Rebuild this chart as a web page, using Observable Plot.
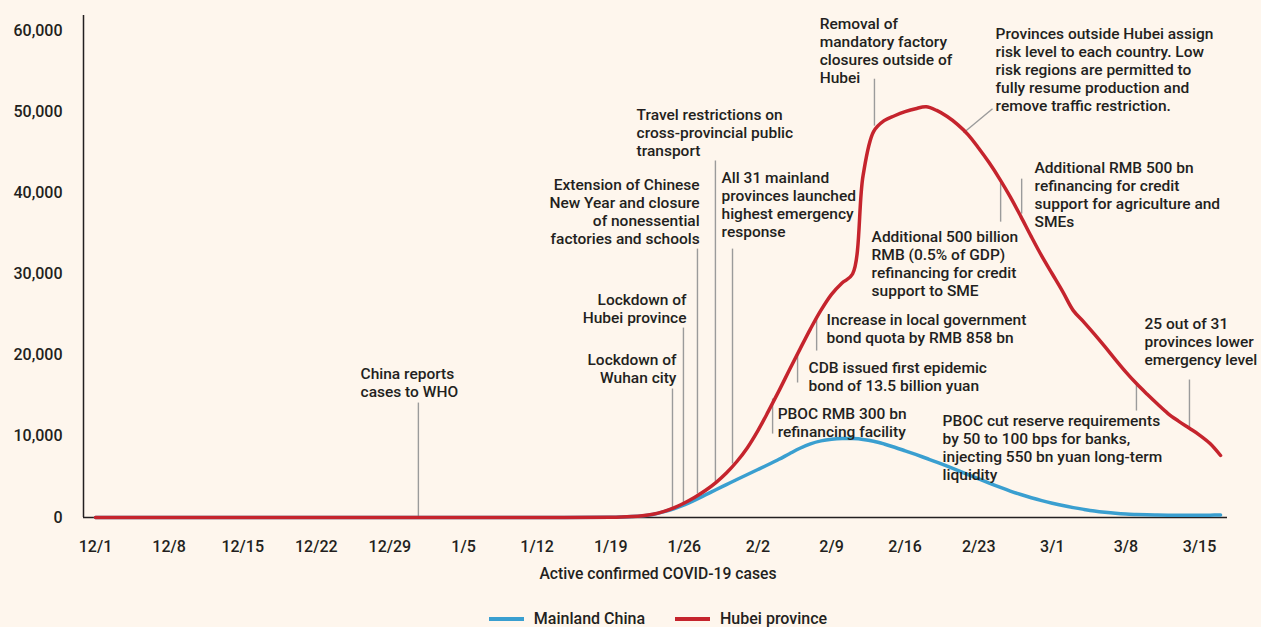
<!DOCTYPE html>
<html>
<head>
<meta charset="utf-8">
<script src="https://cdn.jsdelivr.net/npm/d3@7"></script>
<script src="https://cdn.jsdelivr.net/npm/@observablehq/plot@0.6"></script>
<style>
  html, body { margin: 0; padding: 0; background: #fef6ed; }
  body { width: 1261px; height: 627px; overflow: hidden; font-family: Roboto, sans-serif; color: #231f20; font-weight: 500; }
  #chart svg { display: block; }
  .caption { width: 1261px; box-sizing: border-box; padding-left: 55px; text-align: center; font-size: 15.7px; line-height: 20px; margin-top: 4px; }
  .legend { width: 1261px; box-sizing: border-box; padding-left: 55px; display: flex; justify-content: center; align-items: center; font-size: 16px; line-height: 20px; margin-top: 25px; }
  .legend .item { display: flex; align-items: center; margin: 0 15px; }
  .legend .sw { width: 35px; height: 4px; margin-right: 10px; }
</style>
</head>
<body>
<div id="chart"></div>
<div class="caption">Active confirmed COVID-19 cases</div>
<div class="legend" id="legend"></div>
<script>
// ---- Data ----
const dates = [
  "2019-12-01","2019-12-08","2019-12-15","2019-12-22","2019-12-29","2020-01-05","2020-01-12","2020-01-19",
  "2020-01-20","2020-01-21","2020-01-22","2020-01-23","2020-01-24","2020-01-25","2020-01-26","2020-01-27",
  "2020-01-28","2020-01-29","2020-01-30","2020-01-31","2020-02-01","2020-02-02","2020-02-03","2020-02-04",
  "2020-02-05","2020-02-06","2020-02-07","2020-02-08","2020-02-09","2020-02-10","2020-02-11","2020-02-12",
  "2020-02-13","2020-02-14","2020-02-15","2020-02-16","2020-02-17","2020-02-18","2020-02-19","2020-02-20",
  "2020-02-21","2020-02-22","2020-02-23","2020-02-24","2020-02-25","2020-02-26","2020-02-27","2020-02-28",
  "2020-02-29","2020-03-01","2020-03-02","2020-03-03","2020-03-04","2020-03-05","2020-03-06","2020-03-07",
  "2020-03-08","2020-03-09","2020-03-10","2020-03-11","2020-03-12","2020-03-13","2020-03-14","2020-03-15",
  "2020-03-16","2020-03-17"
];
const hubei = [
  0,0,0,0,0,0,0,30,
  60,120,220,400,720,1180,1790,2500,
  3320,4300,5480,6900,8600,10700,13100,15600,
  18200,20750,23250,25550,27500,28900,30000,42120,
  47540,48890,49500,50000,50370,50600,50150,49400,
  48400,47150,45500,43700,41700,39500,37100,34600,
  32200,30000,27800,25490,24080,22600,21060,19460,
  17920,16500,15210,13980,12810,11880,11020,10160,
  9110,7640
];
const mainland = [
  0,0,0,0,0,0,0,30,
  60,110,200,380,700,1080,1560,2150,
  2780,3420,4050,4680,5300,5910,6530,7170,
  7860,8530,9080,9440,9650,9740,9720,9620,
  9400,9060,8660,8220,7770,7300,6830,6330,
  5810,5280,4750,4230,3730,3260,2830,2440,
  2080,1760,1470,1220,1000,800,640,510,
  420,370,330,300,280,270,270,280,
  290,300
];
const xTickDates = ["2019-12-01","2019-12-08","2019-12-15","2019-12-22","2019-12-29","2020-01-05","2020-01-12","2020-01-19",
  "2020-01-26","2020-02-02","2020-02-09","2020-02-16","2020-02-23","2020-03-01","2020-03-08","2020-03-15"];
const yTicks = [0, 10000, 20000, 30000, 40000, 50000, 60000];
const xDomain = ["2019-11-29T20:37Z", "2020-03-17T15:50Z"];
const yMax = 61850;

const seriesNames = ["Mainland China", "Hubei province"];
const seriesColors = ["#3a9fd0", "#c5242d"];

// Annotations
const annLabels = [
  "China reports\ncases to WHO",
  "Lockdown of\nWuhan city",
  "Lockdown of\nHubei province",
  "Extension of Chinese\nNew Year and closure\nof nonessential\nfactories and schools",
  "Travel restrictions on\ncross-provincial public\ntransport",
  "All 31 mainland\nprovinces launched\nhighest emergency\nresponse",
  "Removal of\nmandatory factory\nclosures outside of\nHubei",
  "Provinces outside Hubei assign\nrisk level to each country. Low\nrisk regions are permitted to\nfully resume production and\nremove traffic restriction.",
  "Additional 500 billion\nRMB (0.5% of GDP)\nrefinancing for credit\nsupport to SME",
  "Additional RMB 500 bn\nrefinancing for credit\nsupport for agriculture and\nSMEs",
  "Increase in local government\nbond quota by RMB 858 bn",
  "CDB issued first epidemic\nbond of 13.5 billion yuan",
  "PBOC RMB 300 bn\nrefinancing facility",
  "PBOC cut reserve requirements\nby 50 to 100 bps for banks,\ninjecting 550 bn yuan long-term\nliquidity",
  "25 out of 31\nprovinces lower\nemergency level"
];
const annTextX = ["2019-12-26T05:00Z","2020-01-25T06:00Z","2020-01-26T05:00Z","2020-01-27T11:00Z","2020-01-21T11:00Z",
  "2020-01-29T13:00Z","2020-02-07T21:00Z","2020-02-24T14:30Z","2020-02-12T19:30Z","2020-02-28T07:30Z",
  "2020-02-08T12:45Z","2020-02-06T19:40Z","2020-02-03T21:00Z","2020-02-19T13:30Z","2020-03-09T18:30Z"];
const annTextY = [18600, 20320, 27710, 41870, 50490, 42730, 61700, 60470, 35470, 43970, 25250, 19330, 13670, 12810, 24750];
const annAnchor = ["start","end","end","end","start","start","start","start","start","start","start","start","start","start","start"];

const leadX1 = ["2019-12-31T17:00Z","2020-01-24T21:00Z","2020-01-25T22:00Z","2020-01-27T06:00Z","2020-01-28T23:00Z",
  "2020-01-30T14:00Z","2020-02-13T02:00Z","2020-02-24T07:30Z","2020-02-25T02:00Z","2020-02-27T02:00Z",
  "2020-02-07T14:00Z","2020-02-05T18:30Z","2020-02-03T09:30Z","2020-03-09T00:00Z","2020-03-14T01:00Z"];
const leadX2 = ["2019-12-31T17:00Z","2020-01-24T21:00Z","2020-01-25T22:00Z","2020-01-27T06:00Z","2020-01-28T23:00Z",
  "2020-01-30T14:00Z","2020-02-13T02:00Z","2020-02-21T13:30Z","2020-02-25T02:00Z","2020-02-27T02:00Z",
  "2020-02-07T14:00Z","2020-02-05T18:30Z","2020-02-03T09:30Z","2020-03-09T00:00Z","2020-03-14T01:00Z"];
const leadY1 = [14160, 15890, 23400, 33130, 43970, 33130, 54060, 50370, 41260, 41750, 24630, 20200, 14660, 16500, 17000];
const leadY2 = [0, 1230, 1600, 2960, 4190, 6650, 48280, 47410, 36450, 37440, 20570, 16630, 10340, 13180, 11080];

// ---- Build tables ----
const parse = s => new Date(s.length === 10 ? s + "T00:00Z" : s);
const rows = [];
seriesNames.forEach((name, si) => {
  const vals = si === 0 ? mainland : hubei;
  dates.forEach((d, i) => rows.push({date: parse(d), value: vals[i], series: name}));
});
const ann = annLabels.map((t, i) => ({label: t, x: parse(annTextX[i]), y: annTextY[i], anchor: annAnchor[i]}));
const leads = leadX1.map((d, i) => ({x1: parse(d), x2: parse(leadX2[i]), y1: leadY1[i], y2: leadY2[i]}));
const fmt = d3.utcFormat("%-m/%-d");

const chart = Plot.plot({
  width: 1261,
  height: 560,
  marginLeft: 83,
  marginRight: 34,
  marginTop: 15,
  marginBottom: 43,
  style: {background: "transparent", fontFamily: "Roboto, sans-serif", fontSize: "16px", fontWeight: 500, color: "#231f20", overflow: "visible"},
  x: {type: "utc", domain: xDomain.map(parse), ticks: xTickDates.map(parse), tickFormat: fmt, tickSize: 0, tickPadding: 23, label: null},
  y: {domain: [0, yMax], ticks: yTicks, tickFormat: d3.format(","), tickSize: 0, tickPadding: 21, label: null},
  color: {domain: seriesNames, range: seriesColors},
  marks: [
    Plot.ruleX([parse(xDomain[0])], {stroke: "#231f20", strokeWidth: 1.5}),
    Plot.ruleY([0], {stroke: "#231f20", strokeWidth: 1.5}),
    Plot.link(leads, {x1: "x1", x2: "x2", y1: "y1", y2: "y2", stroke: "#9b9b9b", strokeWidth: 1.4}),
    Plot.line(rows, {x: "date", y: "value", z: "series", stroke: "series", strokeWidth: 3.5, curve: "catmull-rom", strokeLinecap: "round", strokeLinejoin: "round"}),
    Plot.text(ann.filter(d => d.anchor === "start"), {x: "x", y: "y", text: "label", textAnchor: "start", lineAnchor: "top", lineHeight: 1.16, fontSize: 15.5, fontWeight: 500, fill: "#231f20"}),
    Plot.text(ann.filter(d => d.anchor === "end"), {x: "x", y: "y", text: "label", textAnchor: "end", lineAnchor: "top", lineHeight: 1.16, fontSize: 15.5, fontWeight: 500, fill: "#231f20"})
  ]
});
document.getElementById("chart").appendChild(chart);

const legend = document.getElementById("legend");
seriesNames.forEach((n, i) => {
  const item = document.createElement("div");
  item.className = "item";
  const sw = document.createElement("span");
  sw.className = "sw";
  sw.style.background = seriesColors[i];
  const lab = document.createElement("span");
  lab.textContent = n;
  item.appendChild(sw);
  item.appendChild(lab);
  legend.appendChild(item);
});
</script>
</body>
</html>
